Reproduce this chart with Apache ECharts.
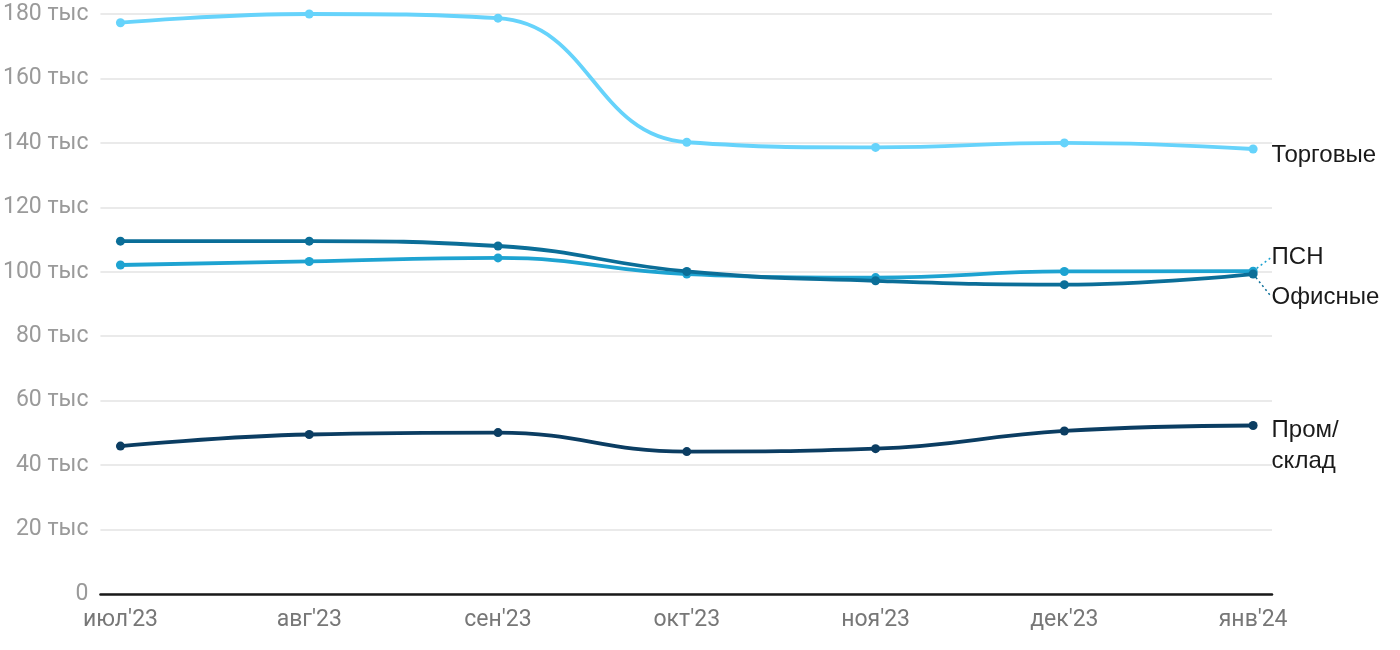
<!DOCTYPE html>
<html><head><meta charset="utf-8">
<script src="https://cdn.jsdelivr.net/npm/echarts@6/dist/echarts.min.js"></script>
<style>html,body{margin:0;padding:0;background:#fff}#c{width:1400px;height:650px}</style>
</head><body><div id="c"></div>
<script>
const months = ["июл'23","авг'23","сен'23","окт'23","ноя'23","дек'23","янв'24"];
const trade = [177.3, 180.0, 178.7, 140.2, 138.6, 140.0, 138.1];
const psn = [102.1, 103.2, 104.3, 99.3, 98.2, 100.1, 100.2];
const office = [109.5, 109.5, 108.0, 100.1, 97.2, 96.0, 99.3];
const prom = [45.9, 49.5, 50.1, 44.2, 45.1, 50.6, 52.3];
const yTicks = [0,20,40,60,80,100,120,140,160,180];

const chart = echarts.init(document.getElementById('c'));
function pts(arr){ return arr.map((v,i)=>[i, v*1000]); }
function mk(name, arr, color, labelCfg){
  const d = pts(arr);
  const last = d.length-1;
  return {
    name, type:'line', smooth:0.45, data: d.map((p,i)=> i===last ? {value:p, label:{show:true, position:'right', distance:14, color:'#1a1a1a', fontSize:24, fontFamily:'Liberation Sans, Arial, sans-serif', lineHeight:31, formatter:labelCfg.text}, labelLine: labelCfg.line ? {show:true, lineStyle:{type:[2,3], color:color, width:1.5}} : {show:false}} : p),
    symbol:'circle', symbolSize:9, itemStyle:{color}, lineStyle:{color, width:3.8},
    labelLayout: labelCfg.dy ? {dy: labelCfg.dy, dx: labelCfg.dx||0} : undefined,
    z: labelCfg.z || 2
  };
}
chart.setOption({
  animation:false,
  grid:{left:100, right:128, top:14, bottom:56, containLabel:false},
  xAxis:{type:'value', min:-0.106, max:6.1,
    axisLine:{show:true, lineStyle:{color:'#1a1a1a', width:2.5}, onZero:false},
    axisTick:{show:false}, splitLine:{show:false},
    axisLabel:{customValues:[0,1,2,3,4,5,6], formatter:v=>months[Math.round(v)], color:'#777', fontSize:23, fontFamily:'Roboto', margin:15}
  },
  yAxis:{type:'value', min:0, max:180000, interval:20000,
    axisLine:{show:false}, axisTick:{show:false},
    splitLine:{lineStyle:{color:'#e3e3e3', width:1.5}},
    axisLabel:{formatter:v=> v===0 ? '0' : (v/1000)+' тыс', color:'#9a9a9a', fontSize:23, fontFamily:'Roboto', margin:12}
  },
  series:[
    mk('Пром/склад', prom, '#0b3d62', {text:'Пром/\nсклад', dy:20}),
    mk('ПСН', psn, '#1ea3d1', {text:'ПСН', dy:-14, line:true}),
    mk('Офисные', office, '#0b6e98', {text:'Офисные', dy:23, line:true, z:3}),
    mk('Торговые', trade, '#66d3fb', {text:'Торговые', dy:6}),
  ]
});
</script></body></html>
